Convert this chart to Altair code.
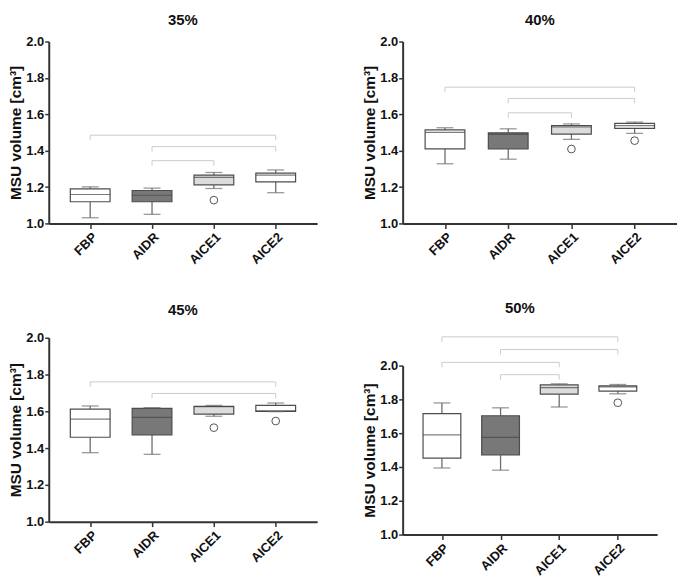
import altair as alt
import pandas as pd

cats = ["FBP", "AIDR", "AICE1", "AICE2"]
fills = ["#ffffff", "#787878", "#dcdcdc", "#ffffff"]

# ---- 35% ----
lo_35 = [1.031, 1.050, 1.192, 1.169]
q1_35 = [1.119, 1.119, 1.212, 1.228]
med_35 = [1.159, 1.155, 1.253, 1.266]
q3_35 = [1.190, 1.181, 1.266, 1.277]
hi_35 = [1.201, 1.194, 1.280, 1.294]
out_cat_35 = ["AICE1"]
out_val_35 = [1.128]
br_a_35 = ["FBP", "AIDR", "AIDR"]
br_b_35 = ["AICE2", "AICE2", "AICE1"]
br_lvl_35 = [1.485, 1.422, 1.345]

# ---- 40% ----
lo_40 = [1.328, 1.353, 1.462, 1.495]
q1_40 = [1.410, 1.409, 1.491, 1.522]
med_40 = [1.500, 1.489, 1.530, 1.538]
q3_40 = [1.514, 1.498, 1.538, 1.550]
hi_40 = [1.526, 1.520, 1.547, 1.557]
out_cat_40 = ["AICE1", "AICE2"]
out_val_40 = [1.409, 1.455]
br_a_40 = ["FBP", "AIDR", "AIDR"]
br_b_40 = ["AICE2", "AICE2", "AICE1"]
br_lvl_40 = [1.749, 1.687, 1.608]

# ---- 45% ----
lo_45 = [1.375, 1.366, 1.573, 1.598]
q1_45 = [1.459, 1.472, 1.585, 1.600]
med_45 = [1.557, 1.567, 1.625, 1.602]
q3_45 = [1.612, 1.616, 1.627, 1.632]
hi_45 = [1.629, 1.620, 1.632, 1.645]
out_cat_45 = ["AICE1", "AICE2"]
out_val_45 = [1.511, 1.547]
br_a_45 = ["FBP", "AIDR"]
br_b_45 = ["AICE2", "AICE2"]
br_lvl_45 = [1.760, 1.697]

# ---- 50% ----
lo_50 = [1.394, 1.381, 1.755, 1.833]
q1_50 = [1.452, 1.472, 1.831, 1.849]
med_50 = [1.590, 1.575, 1.870, 1.874]
q3_50 = [1.716, 1.703, 1.886, 1.880]
hi_50 = [1.779, 1.750, 1.892, 1.888]
out_cat_50 = ["AICE2"]
out_val_50 = [1.780]
br_a_50 = ["FBP", "AIDR", "FBP", "AIDR"]
br_b_50 = ["AICE2", "AICE2", "AICE1", "AICE1"]
br_lvl_50 = [2.170, 2.095, 2.019, 1.946]

y_ticks = [1.0, 1.2, 1.4, 1.6, 1.8, 2.0]

FONT = "Liberation Sans"
AX = "#333333"
WHISK = "#6e6e6e"
BOXSTROKE = "#4d4d4d"
BRACKET = "#cccccc"


def panel(title, lo, q1, med, q3, hi, oc, ov, ba, bb, bl, w, h, box, cap,
          dx=0, toff=5):
    boxes = pd.DataFrame({"cat": cats, "lo": lo, "q1": q1, "med": med, "q3": q3, "hi": hi})
    outs = pd.DataFrame({"cat": oc, "val": ov})
    brs = pd.DataFrame({"a": ba, "b": bb, "lvl": bl})
    ends = pd.DataFrame({"c": ba + bb, "lvl": bl + bl})

    xsc = alt.Scale(domain=cats, type="point", padding=0.67)
    xax = alt.Axis(title=None, labelAngle=-45, labelFont=FONT, labelFontWeight="bold",
                   labelFontSize=13, labelColor="#111111", domainColor=AX, domainWidth=2,
                   tickColor=AX, tickWidth=1.5, tickSize=5, labelPadding=2, grid=False)
    ysc = alt.Scale(domain=[1, 2], zero=False, nice=False)
    yax = alt.Axis(title="MSU volume [cm³]", values=y_ticks, format=".1f",
                   labelFont=FONT, labelFontWeight="bold", labelFontSize=13,
                   labelColor="#111111", titleFont=FONT, titleFontWeight="bold",
                   titleFontSize=15.5, titleColor="#111111", titlePadding=2,
                   domainColor=AX, domainWidth=2, tickColor=AX, tickWidth=1.5,
                   tickSize=4, labelPadding=1, grid=False)

    def X(f):
        return alt.X(f, type="nominal", scale=xsc, axis=xax)

    def Y(f):
        return alt.Y(f, type="quantitative", scale=ysc, axis=yax)

    base = alt.Chart(boxes)
    brh = alt.Chart(brs).mark_rule(color=BRACKET, strokeWidth=1).encode(
        x=X("a"), x2="b", y=Y("lvl"))
    bre = alt.Chart(ends).mark_rule(color=BRACKET, strokeWidth=1, y2Offset=5).encode(
        x=X("c"), y=Y("lvl"), y2="lvl")
    wlo = base.mark_rule(color=WHISK, strokeWidth=1.3).encode(x=X("cat"), y=Y("lo"), y2="q1")
    whi = base.mark_rule(color=WHISK, strokeWidth=1.3).encode(x=X("cat"), y=Y("q3"), y2="hi")
    clo = base.mark_tick(color=WHISK, size=cap, thickness=1.3).encode(x=X("cat"), y=Y("lo"))
    chi = base.mark_tick(color=WHISK, size=cap, thickness=1.3).encode(x=X("cat"), y=Y("hi"))
    bars = base.mark_bar(size=box, stroke=BOXSTROKE, strokeWidth=1.2).encode(
        x=X("cat"), y=Y("q1"), y2="q3",
        fill=alt.Fill("cat:N", scale=alt.Scale(domain=cats, range=fills), legend=None))
    meds = base.mark_tick(color="#444444", size=box, thickness=1.2).encode(x=X("cat"), y=Y("med"))
    pts = alt.Chart(outs).mark_point(shape="circle", filled=False, size=60, color="#555555",
                                     strokeWidth=1, opacity=1).encode(x=X("cat"), y=Y("val"))

    return alt.layer(brh, bre, wlo, whi, bars, meds, clo, chi, pts).properties(
        width=w, height=h,
        title=alt.TitleParams(text=title, font=FONT, fontSize=15, fontWeight="bold",
                              color="#111111", frame="group", anchor="middle",
                              offset=toff, dx=dx))


p1 = panel("35%", lo_35, q1_35, med_35, q3_35, hi_35, out_cat_35, out_val_35,
           br_a_35, br_b_35, br_lvl_35, 270, 183, 40, 17, toff=8)
p2 = panel("40%", lo_40, q1_40, med_40, q3_40, hi_40, out_cat_40, out_val_40,
           br_a_40, br_b_40, br_lvl_40, 276, 183, 40, 17, toff=8)
p3 = panel("45%", lo_45, q1_45, med_45, q3_45, hi_45, out_cat_45, out_val_45,
           br_a_45, br_b_45, br_lvl_45, 270, 185, 40, 17, toff=14)
p4 = panel("50%", lo_50, q1_50, med_50, q3_50, hi_50, out_cat_50, out_val_50,
           br_a_50, br_b_50, br_lvl_50, 256, 170, 38, 17, dx=-10, toff=20)

col1 = alt.vconcat(p1, p3, spacing=36)
col2 = alt.vconcat(p2, p4, spacing=34)
chart = alt.hconcat(col1, col2, spacing=45).properties(
    padding={"top": 3, "left": 0, "right": 0, "bottom": 0}
).configure_view(stroke=None)

chart.save("out.html", embed_options={"renderer": "svg", "actions": False})
